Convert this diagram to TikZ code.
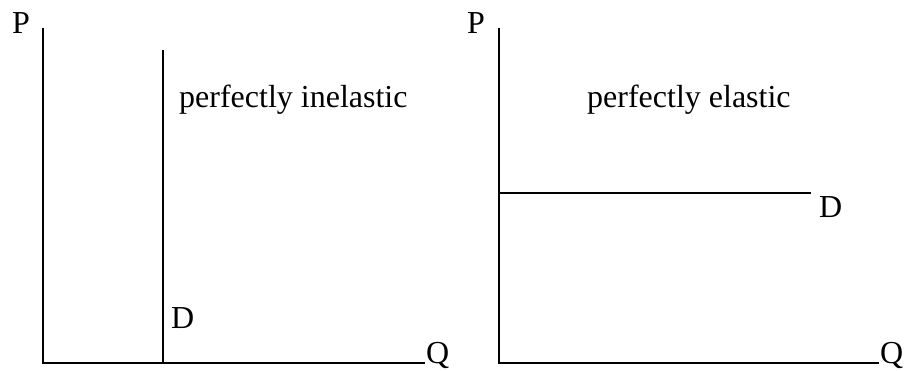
\documentclass[tikz,border=0pt]{standalone}
\usepackage{fontspec}
\setmainfont{Liberation Serif}
\usetikzlibrary{positioning}

\begin{document}
\begin{tikzpicture}[
    x=1pt, y=-1pt,
    axis/.style={line width=2pt},
    demand/.style={line width=1.7pt},
    lbl/.style={inner sep=0pt, anchor=base west, font=\fontsize{32}{37}\selectfont}
  ]
    \useasboundingbox (0,0) rectangle (908,370);
    % left panel
    \coordinate (lorigin) at (43,363);
    \coordinate (ltop) at (43,28);
    \coordinate (lend) at (425,363);
    \coordinate (dtop) at (163,50);
    \coordinate (dbot) at (163,363);
    \node[lbl] (lP) at (12,33) {P};
    \node[lbl] (lQ) at (426,363) {Q};
    \node[lbl] (lD) at (171,328) {D};
    \node[lbl] (inel) at (179,107) {perfectly inelastic};
    \draw[axis] (ltop) -- (lorigin) -- (lend);
    \draw[demand] (dtop) -- (dbot);
    % right panel
    \coordinate (rorigin) at (499,363);
    \coordinate (rtop) at (499,28);
    \coordinate (rend) at (879,363);
    \coordinate (dleft) at (499,193);
    \coordinate (dright) at (811,193);
    \node[lbl] (rP) at (467,33) {P};
    \node[lbl] (rQ) at (880,363) {Q};
    \node[lbl] (rD) at (819,217) {D};
    \node[lbl] (el) at (587,107) {perfectly elastic};
    \draw[axis] (rtop) -- (rorigin) -- (rend);
    \draw[demand] (dleft) -- (dright);
  \end{tikzpicture}
\end{document}
